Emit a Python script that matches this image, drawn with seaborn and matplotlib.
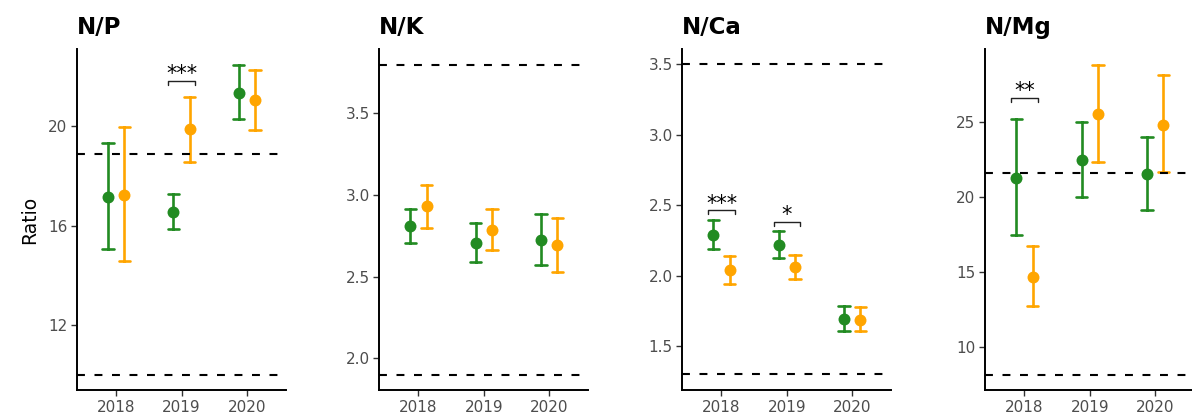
import numpy as np
import pandas as pd
import matplotlib
matplotlib.use("Agg")
import matplotlib.pyplot as plt
import seaborn as sns

# ---------------- data ----------------
years = ["2018", "2019", "2020"]
groups = ["Group A", "Group B"]
panels = ["N/P", "N/K", "N/Ca", "N/Mg"]

# mean, lower, upper per panel: group A and group B, one value per year
np_mean_a = [17.16, 16.56, 21.36]
np_low_a = [15.04, 15.85, 20.28]
np_high_a = [19.32, 17.28, 22.49]
np_mean_b = [17.24, 19.88, 21.04]
np_low_b = [14.56, 18.57, 19.85]
np_high_b = [19.96, 21.20, 22.27]

nk_mean_a = [2.81, 2.705, 2.726]
nk_low_a = [2.707, 2.587, 2.569]
nk_high_a = [2.915, 2.83, 2.884]
nk_mean_b = [2.933, 2.787, 2.695]
nk_low_b = [2.80, 2.66, 2.53]
nk_high_b = [3.063, 2.915, 2.862]

nca_mean_a = [2.289, 2.22, 1.697]
nca_low_a = [2.19, 2.129, 1.606]
nca_high_a = [2.394, 2.317, 1.789]
nca_mean_b = [2.042, 2.061, 1.690]
nca_low_b = [1.944, 1.977, 1.606]
nca_high_b = [2.141, 2.150, 1.782]

nmg_mean_a = [21.30, 22.49, 21.56]
nmg_low_a = [17.49, 20.04, 19.17]
nmg_high_a = [25.22, 25.00, 24.00]
nmg_mean_b = [14.69, 25.55, 24.80]
nmg_low_b = [12.77, 22.38, 21.68]
nmg_high_b = [16.74, 28.85, 28.16]

# optimum range (dashed reference lines)
range_low = [10.0, 1.9, 1.3, 8.2]
range_high = [18.9, 3.8, 3.5, 21.65]

# y ticks
yticks = [[12, 16, 20], [2.0, 2.5, 3.0, 3.5], [1.5, 2.0, 2.5, 3.0, 3.5], [10, 15, 20, 25]]
ytick_fmt = ["{:.0f}", "{:.1f}", "{:.1f}", "{:.0f}"]

# significance annotations: panel index, year, label, bracket height
sig_panel = [0, 2, 2, 3]
sig_year = ["2019", "2018", "2019", "2018"]
sig_label = ["***", "***", "*", "**"]
sig_y = [21.83, 2.467, 2.383, 26.65]

series = [
    (np_mean_a, np_low_a, np_high_a, np_mean_b, np_low_b, np_high_b),
    (nk_mean_a, nk_low_a, nk_high_a, nk_mean_b, nk_low_b, nk_high_b),
    (nca_mean_a, nca_low_a, nca_high_a, nca_mean_b, nca_low_b, nca_high_b),
    (nmg_mean_a, nmg_low_a, nmg_high_a, nmg_mean_b, nmg_low_b, nmg_high_b),
]

green = "#228B22"
orange = "#FFA500"

# ---------------- style ----------------
sns.set_theme(style="ticks")
plt.rcParams["font.family"] = ["DejaVu Sans"]

W, H = 1192, 418
fig = plt.figure(figsize=(W / 100, H / 100), dpi=100)

ax_left_px = [77, 379.3, 682.3, 985.3]
ax_w_px = 209
ax_bottom_px = 28
ax_h_px = 341

for i, name in enumerate(panels):
    ma, la, ha, mb, lb, hb = series[i]
    rows = []
    for g, (m, l, h) in zip(groups, [(ma, la, ha), (mb, lb, hb)]):
        for y, mv, lv, hv in zip(years, m, l, h):
            for v in (lv, mv, hv):
                rows.append({"year": y, "group": g, "value": v})
    df = pd.DataFrame(rows)

    ax = fig.add_axes([ax_left_px[i] / W, ax_bottom_px / H, ax_w_px / W, ax_h_px / H])

    sns.pointplot(
        data=df, x="year", y="value", hue="group", order=years, hue_order=groups,
        estimator="median", errorbar=("pi", 100), dodge=0.25,
        palette=[green, orange], markers="o", linestyle="none",
        markersize=8.6, markeredgewidth=0, capsize=0.17,
        err_kws={"linewidth": 1.9}, legend=False, ax=ax,
    )
    # keep the mean markers above the reference lines
    for ln in ax.lines:
        if ln.get_marker() == "o":
            ln.set_zorder(4)

    for yv in (range_low[i], range_high[i]):
        ax.axhline(yv, color="black", linewidth=1.5, linestyle=(0, (3.8, 4.6)), zorder=3)

    # y-limits: data + reference lines with 5% expansion
    lo = min(min(la), min(lb), range_low[i])
    hi = max(max(ha), max(hb), range_high[i])
    span = hi - lo
    ax.set_ylim(lo - 0.05 * span, hi + 0.05 * span)
    ax.set_xlim(-0.6, 2.6)

    ax.set_yticks(yticks[i])
    ax.set_yticklabels([ytick_fmt[i].format(t) for t in yticks[i]])

    ax.set_xlabel("")
    ax.set_ylabel("Ratio" if i == 0 else "", fontsize=13.5, color="black", labelpad=6)

    ax.set_title(name, loc="left", fontsize=16.5, fontweight="bold", pad=11, color="black")

    for s in ("top", "right"):
        ax.spines[s].set_visible(False)
    for s in ("left", "bottom"):
        ax.spines[s].set_color("black")
        ax.spines[s].set_linewidth(1.4)
    ax.tick_params(axis="both", colors="#333333", labelcolor="#4D4D4D",
                   labelsize=11, length=4, width=1.0, pad=3)
    ax.grid(False)

    # significance brackets
    ylim = ax.get_ylim()
    tick_len = (ylim[1] - ylim[0]) * 4.0 / ax_h_px
    for p, yr, lab, yb in zip(sig_panel, sig_year, sig_label, sig_y):
        if p != i:
            continue
        xc = years.index(yr)
        x0, x1 = xc - 0.2, xc + 0.2
        ax.plot([x0, x0, x1, x1], [yb - tick_len, yb, yb, yb - tick_len],
                color="#222222", linewidth=1.0, zorder=4)
        ax.text(xc, yb + tick_len * 0.1, lab, ha="center", va="baseline",
                fontsize=15, color="black")

fig.savefig("out.png", dpi=100)
